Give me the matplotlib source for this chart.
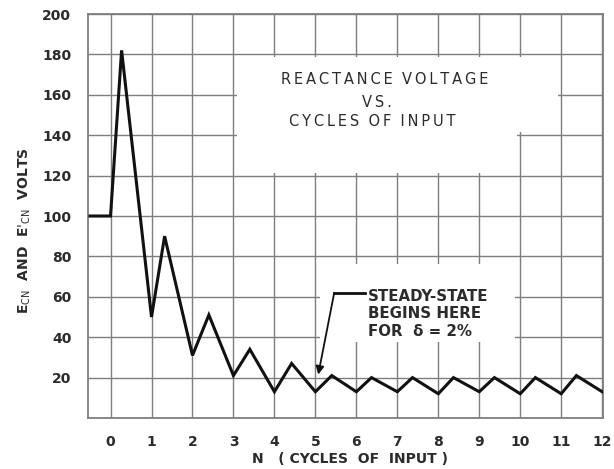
import numpy as np
import matplotlib.pyplot as plt
from matplotlib.patches import Polygon, Rectangle

# cycles of input vs reactance voltage
cycles = [-0.5, 0.0, 0.27, 1.0, 1.32, 2.0, 2.4, 3.0, 3.4, 4.0, 4.42, 5.0, 5.4,
          6.0, 6.37, 7.0, 7.37, 8.0, 8.37, 9.0, 9.37, 10.0, 10.37, 11.0, 11.37, 12.0]
volts = [100, 100, 182, 50, 90, 31, 51, 21, 34, 13, 27, 13, 21,
         13, 20, 13, 20, 12, 20, 13, 20, 12, 20, 12, 21, 13]

x_ticks = list(range(0, 13))
y_ticks = list(range(20, 201, 20))

ink = '#2b2b2b'
grid_col = '#7e7e7e'


def spaced(s):
    # widen the lettering a bit, like the hand-lettered original
    return '\u2009'.join(s)


fig = plt.figure(figsize=(6.14, 4.69), dpi=100)
ax = fig.add_axes([88 / 614, 1 - 418 / 469, (603 - 88) / 614, (418 - 14) / 469])

ax.set_xlim(-0.55, 12.02)
ax.set_ylim(0, 200)

# hand-drawn style grid
for xv in x_ticks:
    ax.axvline(xv, color=grid_col, lw=1.0, zorder=0.5)
for yv in y_ticks:
    ax.axhline(yv, color=grid_col, lw=1.0, zorder=0.5)

# blank patches behind the lettering (grid erased there)
title_patch = Polygon([(3.08, 121.5), (3.08, 178.5), (10.92, 178.5), (10.92, 141.5),
                       (9.92, 141.5), (9.92, 121.5)],
                      closed=True, facecolor='white', edgecolor='none', zorder=1)
ax.add_patch(title_patch)
ax.add_patch(Rectangle((5.12, 37.5), 4.75, 38.5, facecolor='white',
                       edgecolor='none', zorder=1))

ax.plot(cycles, volts, color='#111111', lw=2.2, solid_joinstyle='miter', zorder=3)

for s in ax.spines.values():
    s.set_color(grid_col)
    s.set_linewidth(1.3)

ax.set_xticks(x_ticks)
ax.set_yticks(y_ticks)
ax.tick_params(length=0, colors=ink, labelsize=10)
ax.tick_params(axis='y', pad=12)
ax.tick_params(axis='x', pad=12)
for lab in ax.get_xticklabels() + ax.get_yticklabels():
    lab.set_fontweight('bold')

# title block
tkw = dict(ha='center', va='center', fontsize=10.5, color=ink, zorder=4)
ax.text(6.68, 167.5, spaced('REACTANCE') + '  ' + spaced('VOLTAGE'), **tkw)
ax.text(6.5, 156, spaced('VS.'), **tkw)
ax.text(6.4, 147, spaced('CYCLES') + '  ' + spaced('OF') + '  ' + spaced('INPUT'), **tkw)

# steady-state note
nkw = dict(ha='left', va='center', fontsize=10.8, color=ink, fontweight='bold', zorder=4)
ax.text(6.28, 60, 'STEADY-STATE', **nkw)
ax.text(6.28, 51.5, 'BEGINS HERE', **nkw)
ax.text(6.28, 43, 'FOR  δ = 2%', **nkw)
ax.plot([6.2, 5.46], [62, 62], color='#111111', lw=2, zorder=4)
ax.annotate('', xy=(5.07, 21.5), xytext=(5.46, 62),
            arrowprops=dict(arrowstyle='-|>', color='#111111', lw=1.3,
                            mutation_scale=12, shrinkA=0, shrinkB=0), zorder=4)

fig.text(350 / 614, 1 - 459 / 469, 'N   ( CYCLES  OF  INPUT )', ha='center', va='center',
         fontsize=10, fontweight='bold', color=ink)
fig.text(25 / 614, 1 - 231 / 469, r"E$_{\mathrm{CN}}$  AND  E$'_{\mathrm{CN}}$  VOLTS",
         rotation=90, ha='center', va='center', fontsize=10, fontweight='bold', color=ink)

fig.savefig('out.png', dpi=100)
